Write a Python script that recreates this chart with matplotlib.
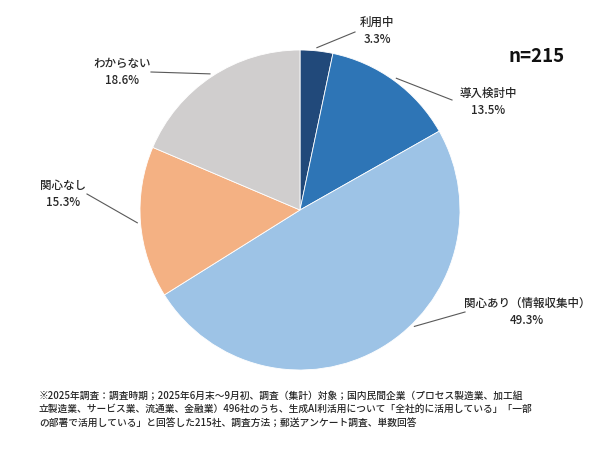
import numpy as np
import matplotlib
matplotlib.use("Agg")
from matplotlib import pyplot as plt

plt.rcParams['font.family'] = ['Noto Sans CJK JP', 'DejaVu Sans']

labels = ['利用中', '導入検討中', '関心あり（情報収集中）', '関心なし', 'わからない']
values = [3.3, 13.5, 49.3, 15.3, 18.6]
colors = ['#21497a', '#2e75b6', '#9dc3e6', '#f4b183', '#d0cece']
n_text = 'n=215'
note = ('※2025年調査：調査時期；2025年6月末～9月初、調査（集計）対象；国内民間企業（プロセス製造業、加工組\n'
        '立製造業、サービス業、流通業、金融業）496社のうち、生成AI利活用について「全社的に活用している」「一部\n'
        'の部署で活用している」と回答した215社、調査方法；郵送アンケート調査、単数回答')

W, H = 600, 450
cx, cy, R = 300, H - 210, 160

# label text centres and leader line ends (image pixel coords, y down)
text_pos = [(377, 31), (488, 102), (527, 312), (63, 194), (122, 72)]
line_end = [(355, 32), (452, 100), (465, 312), (87, 194), (151, 72)]
attach_override = {2: -45.5}

fig = plt.figure(figsize=(6, 4.5), dpi=100)
ax = fig.add_axes([0, 0, 1, 1])

wedges, _ = ax.pie(values, colors=colors, startangle=90, counterclock=False,
                   center=(cx, cy), radius=R,
                   wedgeprops=dict(edgecolor='white', linewidth=0.6))
ax.set_xlim(0, W)
ax.set_ylim(0, H)
ax.set_aspect('auto')
ax.axis('off')

for i, w in enumerate(wedges):
    ang = (w.theta1 + w.theta2) / 2
    ang = attach_override.get(i, ang)
    a = np.deg2rad(ang)
    x0 = cx + R * 1.02 * np.cos(a)
    y0 = cy + R * 1.02 * np.sin(a)
    ex, ey = line_end[i]
    ax.plot([x0, ex], [y0, H - ey], color='#595959', lw=0.8)
    tx, ty = text_pos[i]
    ax.text(tx, H - ty, f'{labels[i]}\n{values[i]:.1f}%', ha='center', va='center',
            fontsize=8.3, color='#262626', linespacing=1.35, fontweight='medium')

ax.text(537, H - 57, n_text, ha='center', va='center', fontsize=13.5,
        fontweight='bold', color='#111111')

ax.text(39, H - 409, note, ha='left', va='center', fontsize=7.0,
        color='#262626', linespacing=1.45, fontweight='medium')

fig.savefig('out.png', dpi=100)
